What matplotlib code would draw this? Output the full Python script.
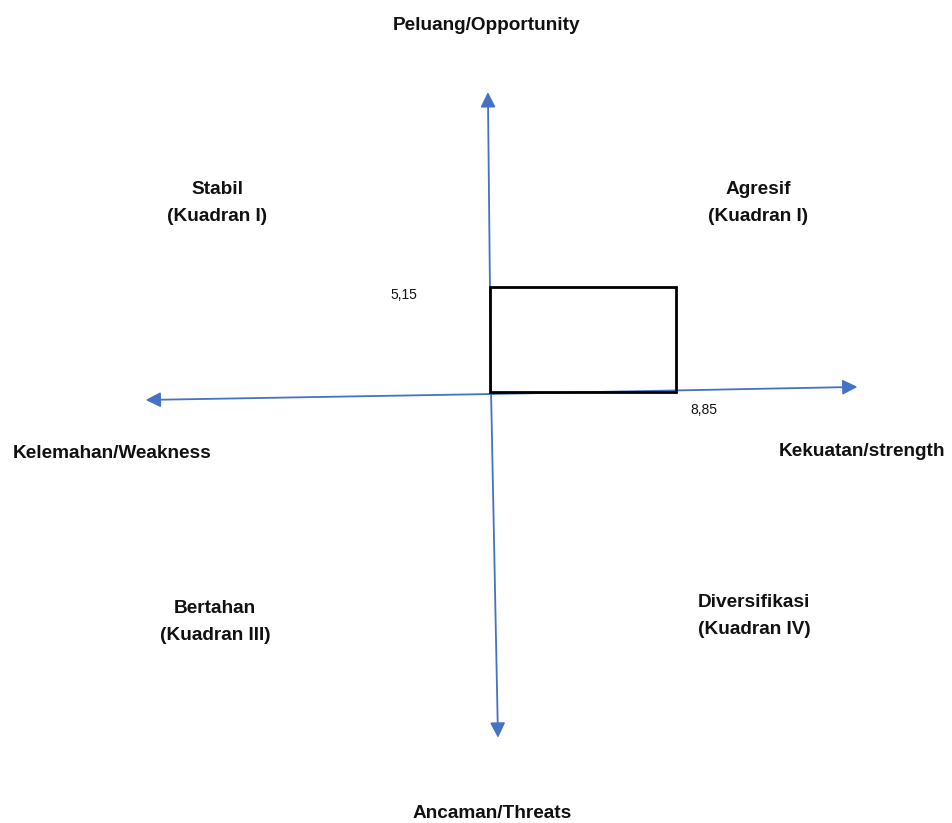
import matplotlib
matplotlib.use("Agg")
import matplotlib.pyplot as plt
from matplotlib.patches import Rectangle

# SWOT scores
strength_score = 8.85
opportunity_score = 5.15
score_labels = ["8,85", "5,15"]

axis_names = ["Peluang/Opportunity", "Ancaman/Threats",
              "Kelemahan/Weakness", "Kekuatan/strength"]
quadrant_names = ["Stabil\n(Kuadran I)", "Agresif\n(Kuadran I)",
                  "Bertahan\n(Kuadran III)", "Diversifikasi\n(Kuadran IV)"]

W, H = 952, 823
fig = plt.figure(figsize=(W / 100, H / 100), dpi=100)
ax = fig.add_axes([0, 0, 1, 1])
ax.axis("off")

# data scale: origin at pixel (490, 392)
sx, sy = 21.0, 20.4
ax.set_xlim(-490 / sx, (W - 490) / sx)
ax.set_ylim(-(H - 392) / sy, 392 / sy)

blue = "#4472C4"
arrow = dict(arrowstyle="-|>,head_length=0.9,head_width=0.45", color=blue, lw=1.3,
             shrinkA=0, shrinkB=0)

# horizontal axis (slightly tilted as in the original)
ax.annotate("", xy=(17.5, 0.25), xytext=(0, -0.1), arrowprops=arrow)
ax.annotate("", xy=(-16.4, -0.39), xytext=(0, -0.1), arrowprops=arrow)
# vertical axis
ax.annotate("", xy=(-0.1, 14.7), xytext=(0.05, 0), arrowprops=arrow)
ax.annotate("", xy=(0.38, -16.95), xytext=(0.05, 0), arrowprops=arrow)

ax.add_patch(Rectangle((0, 0), strength_score, opportunity_score,
                       fill=False, ec="black", lw=2, zorder=3))

font = "Liberation Sans"


def px(x, y):
    return x / W, 1 - y / H


bold = dict(fontsize=13.7, fontweight="bold", family=font, color="#111111",
            ha="center", va="center", linespacing=1.7)
fig.text(*px(487, 25), axis_names[0], **bold)
fig.text(*px(492, 813), axis_names[1], **bold)
fig.text(*px(112, 453), axis_names[2], **bold)
fig.text(*px(862, 452), axis_names[3], **bold)

fig.text(*px(217, 203), quadrant_names[0], **bold)
fig.text(*px(758, 203), quadrant_names[1], **bold)
fig.text(*px(215, 622), quadrant_names[2], **bold)
fig.text(*px(754, 616), quadrant_names[3], **bold)

small = dict(fontsize=10, family=font, color="#111111", ha="center", va="center")
fig.text(*px(704, 410), score_labels[0], **small)
fig.text(*px(404, 295), score_labels[1], **small)

fig.savefig("out.png", dpi=100, facecolor="white")
